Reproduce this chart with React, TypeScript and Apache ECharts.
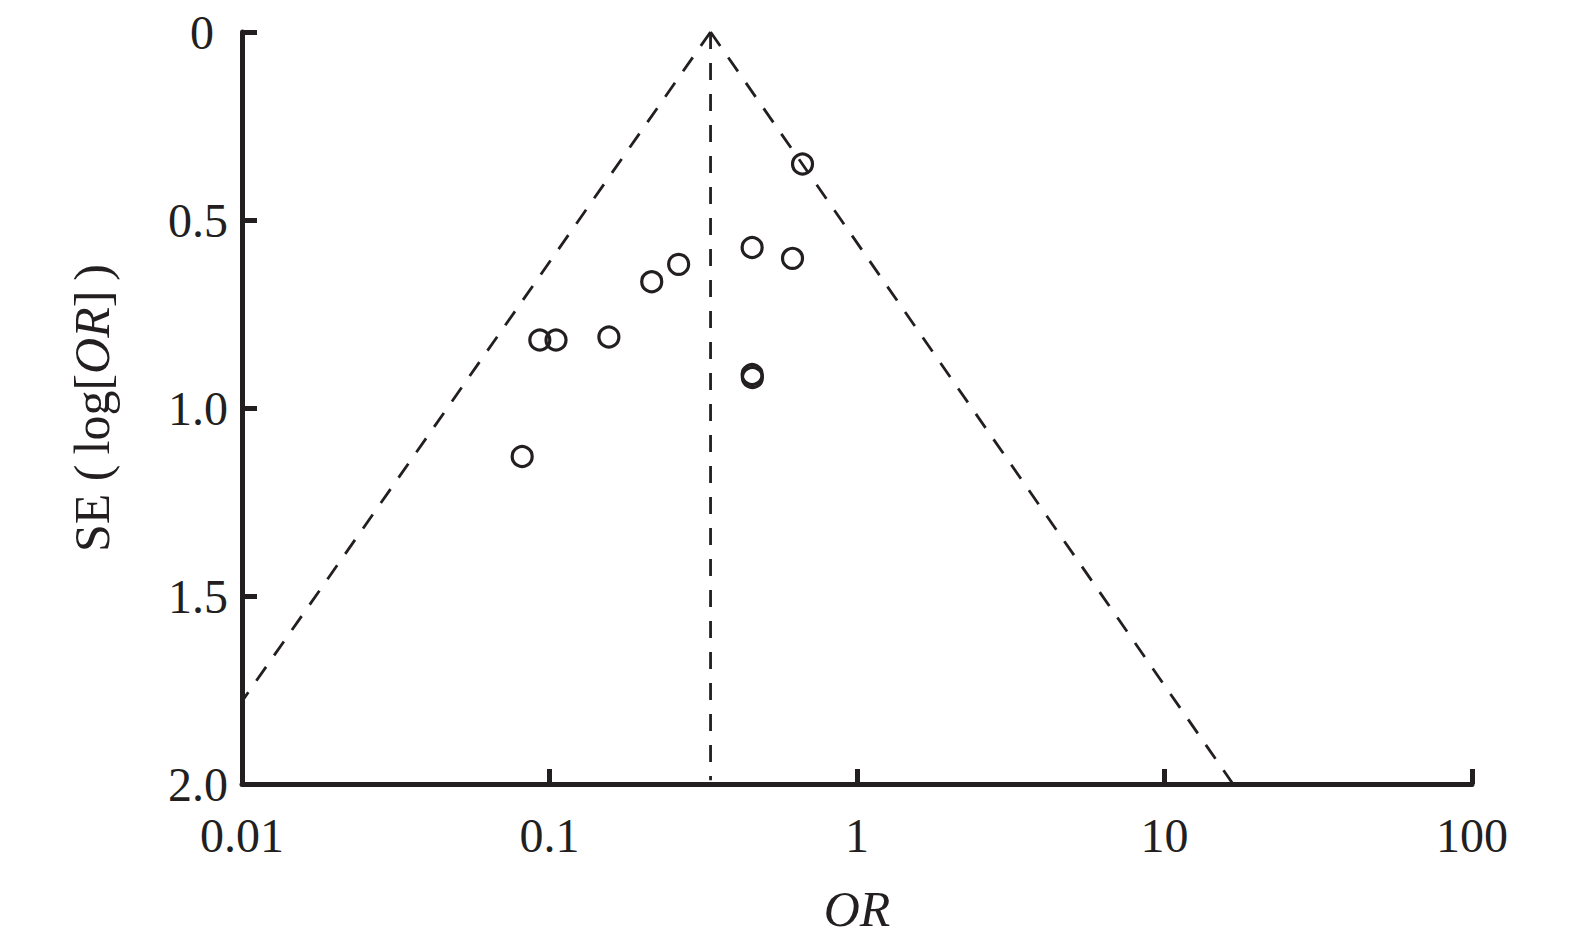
import React, { useEffect, useRef } from "react";
import * as echarts from "echarts";

// Study estimates: odds ratio and its standard error of log(OR)
const studyOR: number[] = [0.665, 0.456, 0.617, 0.263, 0.215, 0.093, 0.105, 0.156, 0.456, 0.457, 0.0815];
const studySE: number[] = [0.351, 0.573, 0.602, 0.618, 0.664, 0.819, 0.819, 0.811, 0.911, 0.919, 1.129];

// Pooled estimate and pseudo-95% confidence limits (endpoints)
const pooledLine: number[][] = [[0.334, 0], [0.334, 1.99]];
const funnelLeft: number[][] = [[0.334, 0], [0.0101, 1.775]];
const funnelRight: number[][] = [[0.334, 0], [16.7, 2.0]];

const xTicks: number[] = [0.01, 0.1, 1, 10, 100];
const yTicks: number[] = [0, 0.5, 1.0, 1.5, 2.0];

const INK = "#231f20";
const FONT = "Liberation Serif";

export default function App() {
  const ref = useRef<HTMLDivElement>(null);

  useEffect(() => {
    document.body.style.margin = "0";
    const chart = echarts.init(ref.current!, undefined, { renderer: "svg" });
    const dashed = { color: INK, width: 2.8, type: [17, 14] as any };
    chart.setOption({
      animation: false,
      backgroundColor: "#ffffff",
      grid: { left: 242, right: 103, top: 32, bottom: 167, containLabel: false },
      xAxis: {
        type: "log",
        logBase: 10,
        min: xTicks[0],
        max: xTicks[xTicks.length - 1],
        splitLine: { show: false },
        axisLine: { show: true, onZero: false, lineStyle: { color: INK, width: 5 } },
        axisTick: { show: true, inside: true, length: 15, lineStyle: { color: INK, width: 5 } },
        minorTick: { show: false },
        axisLabel: {
          color: INK,
          fontFamily: FONT,
          fontSize: 48,
          margin: 27,
          formatter: (v: number) => String(v),
        },
        name: "OR",
        nameLocation: "middle",
        nameGap: 100,
        nameTextStyle: { color: INK, fontFamily: FONT, fontSize: 50, fontStyle: "italic" },
      },
      yAxis: {
        type: "value",
        inverse: true,
        min: yTicks[0],
        max: yTicks[yTicks.length - 1],
        interval: 0.5,
        splitLine: { show: false },
        axisLine: { show: true, onZero: false, lineStyle: { color: INK, width: 5 } },
        axisTick: { show: true, inside: true, length: 15, lineStyle: { color: INK, width: 5 } },
        axisLabel: {
          color: INK,
          fontFamily: FONT,
          fontSize: 48,
          margin: 14,
          formatter: (v: number) => (v === 0 ? "{z|0}" : v.toFixed(1)),
          rich: {
            z: { color: INK, fontFamily: FONT, fontSize: 48, padding: [0, 14, 0, 0] },
          },
        },
        name: "{n|SE (\u2009log[}{i|OR}{n|]\u2009)}",
        nameLocation: "middle",
        nameGap: 125,
        nameRotate: 90,
        nameTextStyle: {
          color: INK,
          rich: {
            n: { color: INK, fontFamily: FONT, fontSize: 50 },
            i: { color: INK, fontFamily: FONT, fontSize: 50, fontStyle: "italic" },
          },
        },
      },
      series: [
        {
          type: "line",
          data: funnelLeft,
          symbol: "none",
          lineStyle: dashed,
          silent: true,
        },
        {
          type: "line",
          data: funnelRight,
          symbol: "none",
          lineStyle: dashed,
          silent: true,
        },
        {
          type: "line",
          data: pooledLine,
          symbol: "none",
          lineStyle: dashed,
          silent: true,
        },
        {
          type: "scatter",
          data: studyOR.map((o, i) => [o, studySE[i]]),
          symbol: "circle",
          symbolSize: 20,
          z: 5,
          itemStyle: { color: "rgba(255,255,255,0)", borderColor: INK, borderWidth: 3.2, opacity: 1 },
        },
      ],
    });
    return () => chart.dispose();
  }, []);

  return <div ref={ref} style={{ width: 1575, height: 951 }} />;
}
